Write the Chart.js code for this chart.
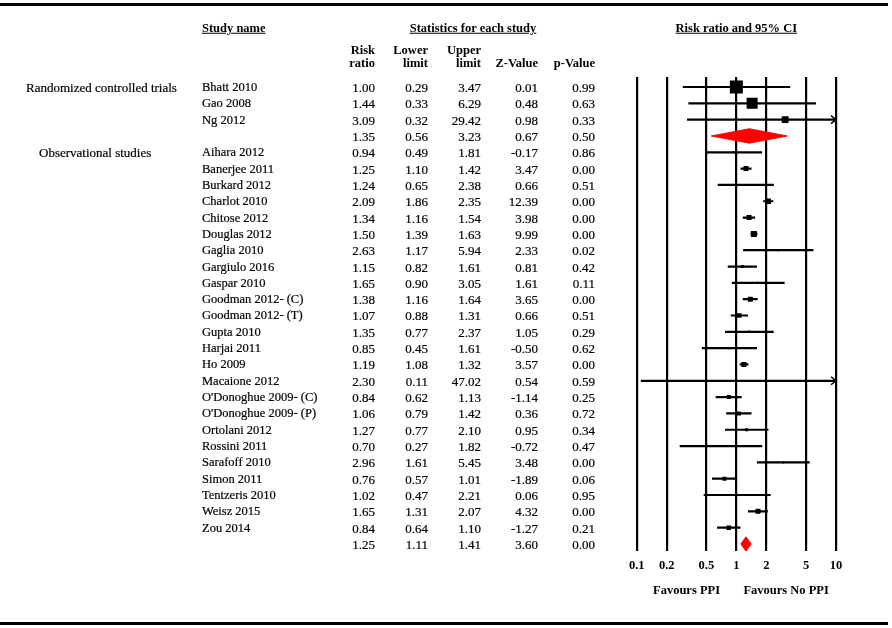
<!DOCTYPE html>
<html>
<head>
<meta charset="utf-8">
<script src="https://cdn.jsdelivr.net/npm/chart.js@4"></script>
<style>
  html, body { margin: 0; padding: 0; background: #fff; }
  #wrap { position: relative; width: 892px; height: 628px; overflow: hidden;
          font-family: "Liberation Serif", serif; font-size: 12.5px; color: #000; }
  #plot { position: absolute; left: 0; top: 0; }
  .t { position: absolute; white-space: nowrap; line-height: 1; -webkit-text-stroke: 0.2px #000; }
  .n { font-size: 13px; }
  .b { font-weight: bold; -webkit-text-stroke: 0; }
  .u { text-decoration: underline; }
  .rule { position: absolute; left: 0; width: 888px; height: 3px; background: #000; }
</style>
</head>
<body>
<div id="wrap">
  <canvas id="plot" width="892" height="628"></canvas>
  <div class="rule" style="top:3px"></div>
  <div class="rule" style="top:622px"></div>
</div>
<script>
// one entry per row; '' = subgroup summary row
const studyNames = ['Bhatt 2010', 'Gao 2008', 'Ng 2012', '',
  'Aihara 2012', 'Banerjee 2011', 'Burkard 2012', 'Charlot 2010', 'Chitose 2012', 'Douglas 2012',
  'Gaglia 2010', 'Gargiulo 2016', 'Gaspar 2010', 'Goodman 2012- (C)', 'Goodman 2012- (T)',
  'Gupta 2010', 'Harjai 2011', 'Ho 2009', 'Macaione 2012', "O'Donoghue 2009- (C)",
  "O'Donoghue 2009- (P)", 'Ortolani 2012', 'Rossini 2011', 'Sarafoff 2010', 'Simon 2011',
  'Tentzeris 2010', 'Weisz 2015', 'Zou 2014', ''];
const riskRatio = [1.00, 1.44, 3.09, 1.35,
  0.94, 1.25, 1.24, 2.09, 1.34, 1.50, 2.63, 1.15, 1.65, 1.38, 1.07, 1.35, 0.85, 1.19, 2.30,
  0.84, 1.06, 1.27, 0.70, 2.96, 0.76, 1.02, 1.65, 0.84, 1.25];
const lowerLimit = [0.29, 0.33, 0.32, 0.56,
  0.49, 1.10, 0.65, 1.86, 1.16, 1.39, 1.17, 0.82, 0.90, 1.16, 0.88, 0.77, 0.45, 1.08, 0.11,
  0.62, 0.79, 0.77, 0.27, 1.61, 0.57, 0.47, 1.31, 0.64, 1.11];
const upperLimit = [3.47, 6.29, 29.42, 3.23,
  1.81, 1.42, 2.38, 2.35, 1.54, 1.63, 5.94, 1.61, 3.05, 1.64, 1.31, 2.37, 1.61, 1.32, 47.02,
  1.13, 1.42, 2.10, 1.82, 5.45, 1.01, 2.21, 2.07, 1.10, 1.41];
const zValue = [0.01, 0.48, 0.98, 0.67,
  -0.17, 3.47, 0.66, 12.39, 3.98, 9.99, 2.33, 0.81, 1.61, 3.65, 0.66, 1.05, -0.50, 3.57, 0.54,
  -1.14, 0.36, 0.95, -0.72, 3.48, -1.89, 0.06, 4.32, -1.27, 3.60];
const pValue = [0.99, 0.63, 0.33, 0.50,
  0.86, 0.00, 0.51, 0.00, 0.00, 0.00, 0.02, 0.42, 0.11, 0.00, 0.51, 0.29, 0.62, 0.00, 0.59,
  0.25, 0.72, 0.34, 0.47, 0.00, 0.06, 0.95, 0.00, 0.21, 0.00];
// relative weight (%) within subgroup; null = summary row
const weights = [50, 36, 14, null,
  1.2, 7.4, 1.2, 8.9, 7.4, 10.7, 1.2, 2.7, 1.2, 7.4, 6.0, 1.8, 1.2, 7.4, 0.3,
  4.8, 4.8, 2.7, 1.2, 1.2, 4.8, 1.2, 7.4, 6.0, null];
const groupLabels = ['Randomized controlled trials', 'Observational studies'];
const groupFirstRow = [0, 4];
const xTicks = [0.1, 0.2, 0.5, 1, 2, 5, 10];
const favourLabels = ['Favours PPI', 'Favours No PPI'];

const X_MIN = 0.1, X_MAX = 10;
const DIAMOND_H = 0.44;
const groupLabelLeft = [26, 39];

const rows = studyNames.map((_, i) => i);
const isSummary = i => weights[i] === null;

// CI whiskers
const ciSets = rows.filter(i => !isSummary(i)).map(i => ({
  data: [{ x: lowerLimit[i], y: i }, { x: upperLimit[i], y: i }],
  showLine: true, borderColor: '#000', borderWidth: 2.2, pointRadius: 0, order: 3
}));

// weighted boxes (area ~ weight)
const boxSet = {
  data: rows.filter(i => !isSummary(i)).map(i => ({ x: riskRatio[i], y: i, w: weights[i] })),
  pointStyle: 'rect', backgroundColor: '#000', borderWidth: 0, order: 1,
  pointRadius: ctx => ctx.raw ? Math.sqrt(ctx.raw.w * 3.37) / Math.SQRT2 : 0
};

// pooled diamonds
const diamondSets = rows.filter(isSummary).map(i => ({
  data: [
    { x: lowerLimit[i], y: i }, { x: riskRatio[i], y: i - DIAMOND_H },
    { x: upperLimit[i], y: i }, { x: riskRatio[i], y: i + DIAMOND_H },
    { x: lowerLimit[i], y: i }
  ],
  showLine: true, fill: 'shape', borderColor: '#f00', backgroundColor: '#f00',
  borderWidth: 1, pointRadius: 0, order: 2
}));

// arrow heads for CIs running off the axis
const arrowPlugin = {
  id: 'arrows',
  afterDatasetsDraw(chart) {
    const { ctx, scales: { x, y } } = chart;
    ctx.save();
    ctx.strokeStyle = '#000';
    ctx.lineWidth = 1.5;
    rows.filter(i => !isSummary(i) && upperLimit[i] > X_MAX).forEach(i => {
      const px = x.getPixelForValue(X_MAX), py = y.getPixelForValue(i);
      ctx.beginPath();
      ctx.moveTo(px - 5, py - 4);
      ctx.lineTo(px, py);
      ctx.lineTo(px - 5, py + 4);
      ctx.stroke();
    });
    ctx.restore();
  }
};

const chart = new Chart(document.getElementById('plot'), {
  type: 'scatter',
  data: { datasets: [boxSet, ...diamondSets, ...ciSets] },
  options: {
    responsive: false,
    animation: false,
    devicePixelRatio: 1,
    layout: { padding: { left: 636.7, right: 56, top: 77, bottom: 0 } },
    plugins: { legend: { display: false }, tooltip: { enabled: false } },
    scales: {
      x: {
        type: 'logarithmic',
        min: X_MIN,
        max: X_MAX,
        afterBuildTicks: s => { s.ticks = xTicks.map(v => ({ value: v })); },
        afterFit: s => { s.height = 77; },
        grid: { color: '#000', lineWidth: 2.2, drawTicks: false },
        border: { display: false },
        ticks: {
          color: '#000', padding: 7, autoSkip: false, maxRotation: 0,
          font: { family: 'Liberation Serif', size: 12.5, weight: 'bold' },
          callback: v => String(v)
        }
      },
      y: { type: 'linear', reverse: true, min: -0.613, max: 28.43, display: false }
    }
  },
  plugins: [arrowPlugin]
});

// table text, placed on the chart's own row scale
const wrap = document.getElementById('wrap');
function place(text, x, y, align, cls) {
  const d = document.createElement('div');
  d.className = 't' + (cls ? ' ' + cls : '');
  d.textContent = text;
  d.style.left = x + 'px';
  d.style.top = y + 'px';
  const tx = align === 'right' ? '-100%' : align === 'center' ? '-50%' : '0';
  d.style.transform = `translate(${tx}, -50%)`;
  wrap.appendChild(d);
}

const xs = chart.scales.x, ys = chart.scales.y;
const colRight = [375, 428, 481, 538, 595];
const columns = [riskRatio, lowerLimit, upperLimit, zValue, pValue];

place('Study name', 202, 28, 'left', 'b u');
place('Statistics for each study', 473, 28, 'center', 'b u');
place('Risk ratio and 95% CI', xs.getPixelForValue(1), 28, 'center', 'b u');
[['Risk', 'ratio'], ['Lower', 'limit'], ['Upper', 'limit'], ['', 'Z-Value'], ['', 'p-Value']]
  .forEach((h, c) => {
    if (h[0]) place(h[0], colRight[c], 50, 'right', 'b');
    place(h[1], colRight[c], 63, 'right', 'b');
  });

groupLabels.forEach((g, k) => place(g, groupLabelLeft[k], ys.getPixelForValue(groupFirstRow[k]), 'left', 'n'));

rows.forEach(i => {
  const py = ys.getPixelForValue(i);
  if (studyNames[i]) place(studyNames[i], 202, py, 'left');
  columns.forEach((col, c) => place(col[i].toFixed(2), colRight[c], py, 'right', 'n'));
});

place(favourLabels[0], xs.getPixelForValue(Math.sqrt(X_MIN * 1)), 590, 'center', 'b');
place(favourLabels[1], xs.getPixelForValue(Math.sqrt(X_MAX * 1)), 590, 'center', 'b');
</script>
</body>
</html>
